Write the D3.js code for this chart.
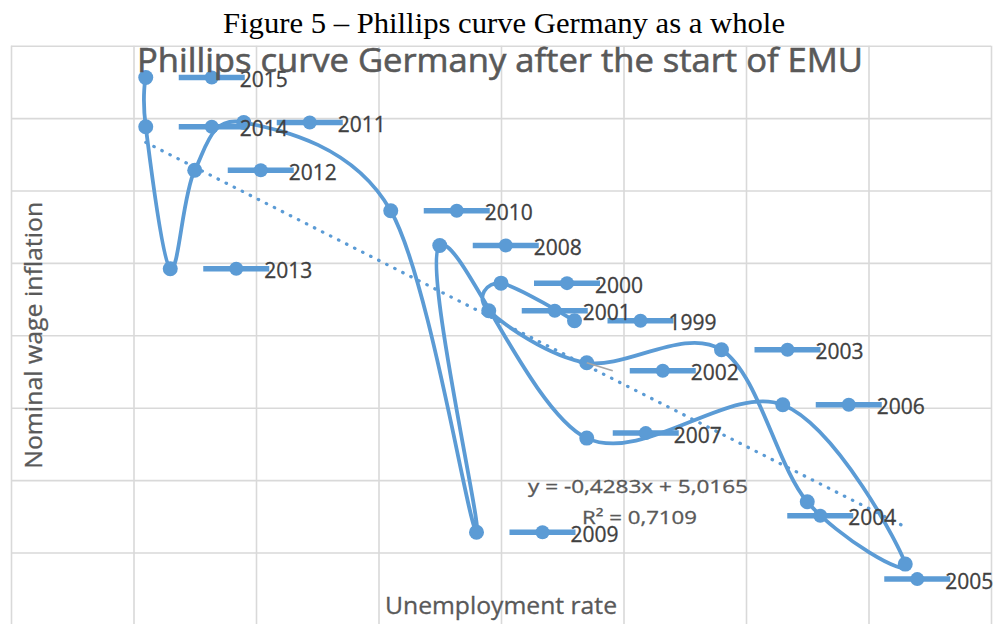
<!DOCTYPE html>
<html>
<head>
<meta charset="utf-8">
<script src="https://cdn.jsdelivr.net/npm/d3@7"></script>
<style>
    body { margin: 0; background: #fff; }
    svg { display: block; }
</style>
</head>
<body>
<svg id="chart" width="998" height="624"></svg>
<script>
// data (rows in year order, as in the sheet)
var years = [1999, 2000, 2001, 2002, 2003, 2004, 2005, 2006, 2007, 2008,
    2009, 2010, 2011, 2012, 2013, 2014, 2015];
var unemployment = [8.6, 8.0, 7.9, 8.7, 9.8, 10.5, 11.3, 10.3, 8.7, 7.5,
    7.8, 7.1, 5.9, 5.5, 5.3, 5.1, 5.1];
var wageInflation = [1.60, 1.86, 1.67, 1.31, 1.40, 0.35, -0.08, 1.02, 0.79, 2.12,
    0.14, 2.36, 2.97, 2.64, 1.96, 2.94, 3.28];
var trendCoef = [-0.4283, 5.0165]; // slope, intercept
var trendLabel = ["y = -0,4283x + 5,0165", "R² = 0,7109"];
var xTicks = [4, 5, 6, 7, 8, 9, 10, 11, 12];
var yTicks = [-0.5, 0, 0.5, 1, 1.5, 2, 2.5, 3, 3.5];

var blue = "#5B9BD5";
var grey = "#595959";
var sans = "'Open Sans', 'Noto Sans', sans-serif";

// labels that were dragged by hand in the original (px nudges from default spot)
var labelNudge = { 2002: [10, 8], 2004: [-53, 14], 2005: [-54, 15], 2007: [-7, -5] };
var leaderYears = [2002];

var svg = d3.select("#chart");
var pLeft = 11, pRight = 991, pTop = 45.7, pBottom = 624.9;

var x = d3.scaleLinear().domain([4, 12]).range([pLeft, pRight]);
var y = d3.scaleLinear().domain([-0.5, 3.5]).range([pBottom, pTop]);

var pts = years.map(function (yr, i) {
    return { year: yr, x: unemployment[i], y: wageInflation[i] };
});

// gridlines
var gx = svg.append("g").attr("transform", "translate(0," + pBottom + ")")
    .call(d3.axisBottom(x).tickValues(xTicks).tickSize(-(pBottom - pTop)).tickFormat(""));
var gy = svg.append("g").attr("transform", "translate(" + pLeft + ",0)")
    .call(d3.axisLeft(y).tickValues(yTicks).tickSize(-(pRight - pLeft)).tickFormat(""));
[gx, gy].forEach(function (g) {
    g.select(".domain").remove();
    g.selectAll("line").attr("stroke", "#d9d9d9").attr("stroke-width", 1.6);
});

// series line (smoothed)
var line = d3.line()
    .x(function (d) { return x(d.x); })
    .y(function (d) { return y(d.y); })
    .curve(d3.curveCatmullRom.alpha(0));

svg.append("path").datum(pts)
    .attr("d", line)
    .attr("fill", "none")
    .attr("stroke", blue)
    .attr("stroke-width", 3.8);

svg.append("g").selectAll("circle")
    .data(pts).enter().append("circle")
    .attr("cx", function (d) { return x(d.x); })
    .attr("cy", function (d) { return y(d.y); })
    .attr("r", 7.5)
    .attr("fill", blue);

// linear trendline
var xExt = d3.extent(unemployment);
svg.append("line")
    .attr("x1", x(xExt[0])).attr("y1", y(trendCoef[0] * xExt[0] + trendCoef[1]))
    .attr("x2", x(xExt[1])).attr("y2", y(trendCoef[0] * xExt[1] + trendCoef[1]))
    .attr("stroke", blue)
    .attr("stroke-width", 3.2)
    .attr("stroke-linecap", "round")
    .attr("stroke-dasharray", "0.5 8.5");

// leader line for the moved label
svg.append("g").selectAll("line")
    .data(pts.filter(function (d) { return leaderYears.indexOf(d.year) != -1; }))
    .enter().append("line")
    .attr("x1", function (d) { return x(d.x); })
    .attr("y1", function (d) { return y(d.y); })
    .attr("x2", function (d) { return x(d.x) + 66 + labelNudge[d.year][0] - 50; })
    .attr("y2", function (d) { return y(d.y) + labelNudge[d.year][1]; })
    .attr("stroke", "#a6a6a6").attr("stroke-width", 1.5);

// data labels with legend key
var labels = svg.append("g").selectAll(".lbl")
    .data(pts).enter().append("g")
    .attr("class", "lbl")
    .attr("transform", function (d) {
        var n = labelNudge[d.year] || [0, 0];
        return "translate(" + (x(d.x) + 66 + n[0]) + "," + (y(d.y) + n[1]) + ")";
    });

labels.append("line")
    .attr("x1", -33).attr("x2", 33)
    .attr("stroke", blue).attr("stroke-width", 5.5);
labels.append("circle").attr("r", 7).attr("fill", blue);
labels.append("text")
    .attr("x", 28).attr("y", 9.5)
    .text(function (d) { return d.year; })
    .style("font", "21px " + sans)
    .style("fill", "#404040")
    .style("stroke", "#404040").style("stroke-width", 0.3);

// trendline equation
svg.append("text")
    .attr("x", 638).attr("y", 493)
    .attr("text-anchor", "middle")
    .attr("textLength", 220).attr("lengthAdjust", "spacingAndGlyphs")
    .text(trendLabel[0])
    .style("font", "18.5px " + sans).style("fill", grey)
    .style("stroke", grey).style("stroke-width", 0.3);
svg.append("text")
    .attr("x", 639.5).attr("y", 524)
    .attr("text-anchor", "middle")
    .attr("textLength", 115).attr("lengthAdjust", "spacingAndGlyphs")
    .text(trendLabel[1])
    .style("font", "18.5px " + sans).style("fill", grey)
    .style("stroke", grey).style("stroke-width", 0.3);

// titles
svg.append("text")
    .attr("x", 500).attr("y", 72)
    .attr("text-anchor", "middle")
    .attr("textLength", 726).attr("lengthAdjust", "spacingAndGlyphs")
    .text("Phillips curve Germany after the start of EMU")
    .style("font", "33px " + sans).style("fill", grey)
    .style("stroke", grey).style("stroke-width", 0.6);

svg.append("text")
    .attr("x", 501).attr("y", 614)
    .attr("text-anchor", "middle")
    .attr("textLength", 232).attr("lengthAdjust", "spacingAndGlyphs")
    .text("Unemployment rate")
    .style("font", "24px " + sans).style("fill", grey)
    .style("stroke", grey).style("stroke-width", 0.3);

svg.append("text")
    .attr("transform", "translate(42," + ((pTop + pBottom) / 2) + ") rotate(-90)")
    .attr("text-anchor", "middle")
    .attr("textLength", 267).attr("lengthAdjust", "spacingAndGlyphs")
    .text("Nominal wage inflation")
    .style("font", "24px " + sans).style("fill", grey)
    .style("stroke", grey).style("stroke-width", 0.3);

// figure caption above the chart
svg.append("text")
    .attr("x", 504).attr("y", 33)
    .attr("text-anchor", "middle")
    .attr("textLength", 562).attr("lengthAdjust", "spacingAndGlyphs")
    .text("Figure 5 – Phillips curve Germany as a whole")
    .style("font", "29px 'Liberation Serif', 'DejaVu Serif', serif").style("fill", "#000");
</script>
</body>
</html>
